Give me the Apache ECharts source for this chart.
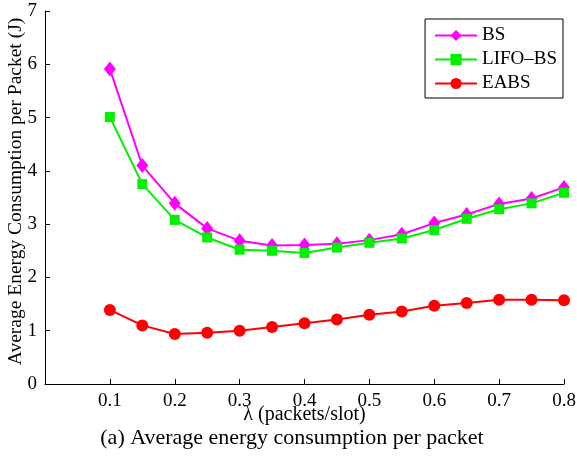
<!DOCTYPE html>
<html><head><meta charset="utf-8">
<script src="https://cdn.jsdelivr.net/npm/echarts@6/dist/echarts.min.js"></script>
<style>html,body{margin:0;padding:0;background:#fff}#c{width:577px;height:466px}</style>
</head><body><div id="c"></div>
<script>
const lambdas = [0.1,0.15,0.2,0.25,0.3,0.35,0.4,0.45,0.5,0.55,0.6,0.65,0.7,0.75,0.8];
const bs     = [5.91,4.10,3.39,2.92,2.69,2.60,2.61,2.63,2.70,2.81,3.02,3.18,3.38,3.48,3.69];
const lifoBs = [5.01,3.75,3.08,2.75,2.52,2.50,2.46,2.56,2.65,2.73,2.89,3.10,3.28,3.39,3.59];
const eabs   = [1.39,1.10,0.94,0.96,1.00,1.07,1.14,1.21,1.30,1.36,1.47,1.52,1.58,1.58,1.57];
const xTicks = [0.1,0.2,0.3,0.4,0.5,0.6,0.7,0.8];
const F = 'Liberation Serif';
const pairs = a => lambdas.map((x,i)=>[x,a[i]]);
const chart = echarts.init(document.getElementById('c'));
chart.setOption({
  animation:false,
  textStyle:{fontFamily:F},
  title:{text:'(a) Average energy consumption per packet',left:292,textAlign:'center',top:427,padding:0,
    textStyle:{fontFamily:F,fontSize:22,fontWeight:'normal',color:'#000'}},
  grid:{left:45,right:13,top:11,bottom:82,containLabel:false,outerBoundsMode:'none'},
  legend:{right:14,top:19,orient:'vertical',backgroundColor:'#fff',borderColor:'#000',borderWidth:1,
    padding:[7,6,5,9],itemGap:5,itemWidth:42,itemHeight:14,
    textStyle:{fontFamily:F,fontSize:19,color:'#000'},
    data:['BS','LIFO\u2013BS','EABS']},
  xAxis:{type:'value',min:0,max:0.8,interval:0.1,
    name:'\u03bb (packets/slot)',nameLocation:'middle',nameGap:21,nameMoveOverlap:false,
    nameTextStyle:{fontFamily:F,fontSize:20,color:'#000'},
    axisLine:{lineStyle:{color:'#000'}},
    axisTick:{inside:true,length:5,lineStyle:{color:'#000'}},
    splitLine:{show:false},
    axisLabel:{fontFamily:F,fontSize:19,color:'#000',margin:8,
      formatter:v=>{const t=xTicks.find(k=>Math.abs(k-v)<1e-6);return t===undefined?'':t.toFixed(1);}}},
  yAxis:{type:'value',min:0,max:7,interval:1,
    name:'Average Energy Consumption per Packet (J)',nameLocation:'middle',nameGap:19,nameMoveOverlap:false,
    nameTextStyle:{fontFamily:F,fontSize:19.5,color:'#000',padding:[0,0,0,12]},
    axisLine:{show:true,lineStyle:{color:'#000'}},
    axisTick:{show:true,inside:true,length:5,lineStyle:{color:'#000'}},
    splitLine:{show:false},
    axisLabel:{fontFamily:F,fontSize:19,color:'#000',margin:8}},
  series:[
    {name:'BS',type:'line',data:pairs(bs),symbol:'diamond',symbolSize:[12,15],
      itemStyle:{color:'#ff00ff'},lineStyle:{color:'#ff00ff',width:2}},
    {name:'LIFO\u2013BS',type:'line',data:pairs(lifoBs),symbol:'rect',symbolSize:10,
      itemStyle:{color:'#00f000'},lineStyle:{color:'#00f000',width:2}},
    {name:'EABS',type:'line',data:pairs(eabs),symbol:'circle',symbolSize:12,
      itemStyle:{color:'#ff0000'},lineStyle:{color:'#ff0000',width:2}}
  ]
});
</script></body></html>
